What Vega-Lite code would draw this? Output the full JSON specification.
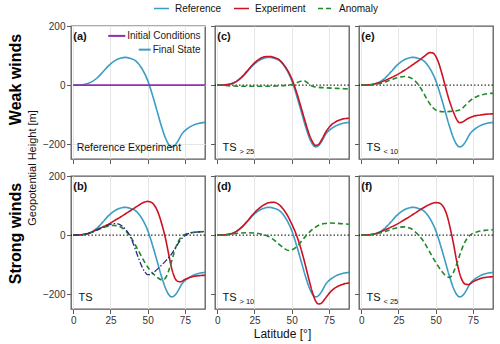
{
"$schema":"https://vega.github.io/schema/vega-lite/v6.json",
"padding":{"left":6,"top":0,"right":2,"bottom":2},
"config":{
 "font":"Liberation Sans",
 "view":{"stroke":"#5a5a5a","strokeWidth":1.3},
 "axis":{"domain":false,"gridColor":"#e6e6e6","tickColor":"#5a5a5a","tickSize":4.5,"labelFontSize":10,"labelColor":"#333333","titleFontSize":11.5,"titleFontWeight":"normal","titleColor":"#111111","labelPadding":1.5,"titlePadding":4,"labelOverlap":false},
 "line":{"strokeWidth":1.6,"interpolate":"monotone"}
},
"datasets":{
 "ref":[{"lat":0,"val":0},{"lat":4,"val":0.5},{"lat":8,"val":3},{"lat":12,"val":10},{"lat":16,"val":24},{"lat":20,"val":45},{"lat":24,"val":67},{"lat":28,"val":83},{"lat":32,"val":92},{"lat":35,"val":94},{"lat":38,"val":91},{"lat":42,"val":82},{"lat":46,"val":57},{"lat":50,"val":16},{"lat":53,"val":-30},{"lat":56,"val":-82},{"lat":59,"val":-135},{"lat":62,"val":-180},{"lat":64,"val":-200},{"lat":66,"val":-209},{"lat":68,"val":-205},{"lat":70,"val":-192},{"lat":73,"val":-165},{"lat":76,"val":-150},{"lat":80,"val":-137},{"lat":84,"val":-130},{"lat":88.5,"val":-126}],
 "init":[{"lat":0,"val":0},{"lat":88.5,"val":0}],
 "navy":[{"lat":0,"val":0},{"lat":4,"val":0.5},{"lat":8,"val":3},{"lat":12,"val":9},{"lat":16,"val":18},{"lat":20,"val":27},{"lat":24,"val":35},{"lat":27,"val":39},{"lat":30,"val":38},{"lat":33,"val":30},{"lat":36,"val":14},{"lat":38,"val":-2},{"lat":40,"val":-25},{"lat":42,"val":-52},{"lat":44,"val":-80},{"lat":46,"val":-105},{"lat":48,"val":-124},{"lat":50,"val":-134},{"lat":52,"val":-133},{"lat":55,"val":-122},{"lat":58,"val":-108},{"lat":62,"val":-88},{"lat":66,"val":-64},{"lat":69,"val":-40},{"lat":72,"val":-17},{"lat":75,"val":-2},{"lat":78,"val":6},{"lat":82,"val":10},{"lat":88.5,"val":12}],
 "curves":[
{"panel":"c","series":"Experiment","lat":0,"val":0},{"panel":"c","series":"Experiment","lat":4,"val":0.5},{"panel":"c","series":"Experiment","lat":8,"val":3},{"panel":"c","series":"Experiment","lat":12,"val":10},{"panel":"c","series":"Experiment","lat":16,"val":25},{"panel":"c","series":"Experiment","lat":20,"val":47},{"panel":"c","series":"Experiment","lat":24,"val":70},{"panel":"c","series":"Experiment","lat":28,"val":87},{"panel":"c","series":"Experiment","lat":32,"val":96},{"panel":"c","series":"Experiment","lat":35,"val":97},{"panel":"c","series":"Experiment","lat":38,"val":94},{"panel":"c","series":"Experiment","lat":42,"val":84},{"panel":"c","series":"Experiment","lat":46,"val":60},{"panel":"c","series":"Experiment","lat":50,"val":22},{"panel":"c","series":"Experiment","lat":53,"val":-20},{"panel":"c","series":"Experiment","lat":56,"val":-70},{"panel":"c","series":"Experiment","lat":59,"val":-122},{"panel":"c","series":"Experiment","lat":62,"val":-170},{"panel":"c","series":"Experiment","lat":64,"val":-192},{"panel":"c","series":"Experiment","lat":66,"val":-204},{"panel":"c","series":"Experiment","lat":68,"val":-201},{"panel":"c","series":"Experiment","lat":70,"val":-186},{"panel":"c","series":"Experiment","lat":73,"val":-158},{"panel":"c","series":"Experiment","lat":76,"val":-138},{"panel":"c","series":"Experiment","lat":80,"val":-123},{"panel":"c","series":"Experiment","lat":84,"val":-115},{"panel":"c","series":"Experiment","lat":88.5,"val":-112},
{"panel":"c","series":"Anomaly","lat":0,"val":0},{"panel":"c","series":"Anomaly","lat":5,"val":-1},{"panel":"c","series":"Anomaly","lat":10,"val":-3},{"panel":"c","series":"Anomaly","lat":20,"val":-4},{"panel":"c","series":"Anomaly","lat":30,"val":-4},{"panel":"c","series":"Anomaly","lat":40,"val":-3},{"panel":"c","series":"Anomaly","lat":46,"val":-1},{"panel":"c","series":"Anomaly","lat":50,"val":2},{"panel":"c","series":"Anomaly","lat":53,"val":7},{"panel":"c","series":"Anomaly","lat":56,"val":13},{"panel":"c","series":"Anomaly","lat":58,"val":15},{"panel":"c","series":"Anomaly","lat":60,"val":10},{"panel":"c","series":"Anomaly","lat":62,"val":2},{"panel":"c","series":"Anomaly","lat":64,"val":-4},{"panel":"c","series":"Anomaly","lat":67,"val":-7},{"panel":"c","series":"Anomaly","lat":72,"val":-9},{"panel":"c","series":"Anomaly","lat":80,"val":-11},{"panel":"c","series":"Anomaly","lat":88.5,"val":-13},
{"panel":"e","series":"Experiment","lat":0,"val":0},{"panel":"e","series":"Experiment","lat":4,"val":0.5},{"panel":"e","series":"Experiment","lat":8,"val":3},{"panel":"e","series":"Experiment","lat":12,"val":8},{"panel":"e","series":"Experiment","lat":16,"val":16},{"panel":"e","series":"Experiment","lat":20,"val":25},{"panel":"e","series":"Experiment","lat":24,"val":35},{"panel":"e","series":"Experiment","lat":28,"val":47},{"panel":"e","series":"Experiment","lat":32,"val":60},{"panel":"e","series":"Experiment","lat":36,"val":74},{"panel":"e","series":"Experiment","lat":40,"val":88},{"panel":"e","series":"Experiment","lat":43,"val":100},{"panel":"e","series":"Experiment","lat":46,"val":110},{"panel":"e","series":"Experiment","lat":48,"val":109},{"panel":"e","series":"Experiment","lat":50,"val":98},{"panel":"e","series":"Experiment","lat":52,"val":75},{"panel":"e","series":"Experiment","lat":54,"val":42},{"panel":"e","series":"Experiment","lat":56,"val":5},{"panel":"e","series":"Experiment","lat":58,"val":-33},{"panel":"e","series":"Experiment","lat":60,"val":-65},{"panel":"e","series":"Experiment","lat":62,"val":-92},{"panel":"e","series":"Experiment","lat":64,"val":-115},{"panel":"e","series":"Experiment","lat":66,"val":-127},{"panel":"e","series":"Experiment","lat":68,"val":-125},{"panel":"e","series":"Experiment","lat":71,"val":-115},{"panel":"e","series":"Experiment","lat":75,"val":-106},{"panel":"e","series":"Experiment","lat":80,"val":-101},{"panel":"e","series":"Experiment","lat":85,"val":-98},{"panel":"e","series":"Experiment","lat":88.5,"val":-97},
{"panel":"e","series":"Anomaly","lat":0,"val":0},{"panel":"e","series":"Anomaly","lat":5,"val":1},{"panel":"e","series":"Anomaly","lat":10,"val":3},{"panel":"e","series":"Anomaly","lat":15,"val":9},{"panel":"e","series":"Anomaly","lat":20,"val":18},{"panel":"e","series":"Anomaly","lat":25,"val":26},{"panel":"e","series":"Anomaly","lat":29,"val":29},{"panel":"e","series":"Anomaly","lat":33,"val":25},{"panel":"e","series":"Anomaly","lat":36,"val":15},{"panel":"e","series":"Anomaly","lat":39,"val":-3},{"panel":"e","series":"Anomaly","lat":42,"val":-28},{"panel":"e","series":"Anomaly","lat":45,"val":-55},{"panel":"e","series":"Anomaly","lat":48,"val":-76},{"panel":"e","series":"Anomaly","lat":51,"val":-87},{"panel":"e","series":"Anomaly","lat":55,"val":-90},{"panel":"e","series":"Anomaly","lat":60,"val":-89},{"panel":"e","series":"Anomaly","lat":64,"val":-87},{"panel":"e","series":"Anomaly","lat":67,"val":-82},{"panel":"e","series":"Anomaly","lat":70,"val":-68},{"panel":"e","series":"Anomaly","lat":73,"val":-53},{"panel":"e","series":"Anomaly","lat":77,"val":-40},{"panel":"e","series":"Anomaly","lat":81,"val":-33},{"panel":"e","series":"Anomaly","lat":85,"val":-29},{"panel":"e","series":"Anomaly","lat":88.5,"val":-27},
{"panel":"b","series":"Experiment","lat":0,"val":0},{"panel":"b","series":"Experiment","lat":4,"val":0.5},{"panel":"b","series":"Experiment","lat":8,"val":3},{"panel":"b","series":"Experiment","lat":12,"val":9},{"panel":"b","series":"Experiment","lat":16,"val":19},{"panel":"b","series":"Experiment","lat":20,"val":28},{"panel":"b","series":"Experiment","lat":24,"val":38},{"panel":"b","series":"Experiment","lat":28,"val":50},{"panel":"b","series":"Experiment","lat":32,"val":62},{"panel":"b","series":"Experiment","lat":36,"val":75},{"panel":"b","series":"Experiment","lat":40,"val":88},{"panel":"b","series":"Experiment","lat":44,"val":101},{"panel":"b","series":"Experiment","lat":47,"val":110},{"panel":"b","series":"Experiment","lat":50,"val":114},{"panel":"b","series":"Experiment","lat":52,"val":112},{"panel":"b","series":"Experiment","lat":54,"val":104},{"panel":"b","series":"Experiment","lat":56,"val":88},{"panel":"b","series":"Experiment","lat":58,"val":62},{"panel":"b","series":"Experiment","lat":60,"val":28},{"panel":"b","series":"Experiment","lat":62,"val":-12},{"panel":"b","series":"Experiment","lat":64,"val":-62},{"panel":"b","series":"Experiment","lat":66,"val":-110},{"panel":"b","series":"Experiment","lat":68,"val":-142},{"panel":"b","series":"Experiment","lat":70,"val":-156},{"panel":"b","series":"Experiment","lat":72,"val":-158},{"panel":"b","series":"Experiment","lat":75,"val":-150},{"panel":"b","series":"Experiment","lat":80,"val":-141},{"panel":"b","series":"Experiment","lat":85,"val":-137},{"panel":"b","series":"Experiment","lat":88.5,"val":-136},
{"panel":"b","series":"Anomaly","lat":0,"val":0},{"panel":"b","series":"Anomaly","lat":4,"val":0.5},{"panel":"b","series":"Anomaly","lat":8,"val":3},{"panel":"b","series":"Anomaly","lat":12,"val":9},{"panel":"b","series":"Anomaly","lat":16,"val":17},{"panel":"b","series":"Anomaly","lat":20,"val":25},{"panel":"b","series":"Anomaly","lat":24,"val":31},{"panel":"b","series":"Anomaly","lat":27,"val":33},{"panel":"b","series":"Anomaly","lat":30,"val":31},{"panel":"b","series":"Anomaly","lat":33,"val":24},{"panel":"b","series":"Anomaly","lat":36,"val":10},{"panel":"b","series":"Anomaly","lat":39,"val":-10},{"panel":"b","series":"Anomaly","lat":42,"val":-36},{"panel":"b","series":"Anomaly","lat":45,"val":-64},{"panel":"b","series":"Anomaly","lat":48,"val":-92},{"panel":"b","series":"Anomaly","lat":51,"val":-115},{"panel":"b","series":"Anomaly","lat":54,"val":-132},{"panel":"b","series":"Anomaly","lat":57,"val":-145},{"panel":"b","series":"Anomaly","lat":60,"val":-152},{"panel":"b","series":"Anomaly","lat":62,"val":-145},{"panel":"b","series":"Anomaly","lat":64,"val":-122},{"panel":"b","series":"Anomaly","lat":66,"val":-90},{"panel":"b","series":"Anomaly","lat":68,"val":-55},{"panel":"b","series":"Anomaly","lat":70,"val":-27},{"panel":"b","series":"Anomaly","lat":72,"val":-10},{"panel":"b","series":"Anomaly","lat":75,"val":2},{"panel":"b","series":"Anomaly","lat":80,"val":9},{"panel":"b","series":"Anomaly","lat":85,"val":11},{"panel":"b","series":"Anomaly","lat":88.5,"val":12},
{"panel":"d","series":"Experiment","lat":0,"val":0},{"panel":"d","series":"Experiment","lat":4,"val":0.5},{"panel":"d","series":"Experiment","lat":8,"val":3},{"panel":"d","series":"Experiment","lat":12,"val":10},{"panel":"d","series":"Experiment","lat":16,"val":25},{"panel":"d","series":"Experiment","lat":20,"val":46},{"panel":"d","series":"Experiment","lat":24,"val":70},{"panel":"d","series":"Experiment","lat":28,"val":90},{"panel":"d","series":"Experiment","lat":32,"val":104},{"panel":"d","series":"Experiment","lat":35,"val":110},{"panel":"d","series":"Experiment","lat":38,"val":111},{"panel":"d","series":"Experiment","lat":41,"val":105},{"panel":"d","series":"Experiment","lat":44,"val":90},{"panel":"d","series":"Experiment","lat":47,"val":68},{"panel":"d","series":"Experiment","lat":50,"val":38},{"panel":"d","series":"Experiment","lat":53,"val":3},{"panel":"d","series":"Experiment","lat":56,"val":-42},{"panel":"d","series":"Experiment","lat":59,"val":-98},{"panel":"d","series":"Experiment","lat":62,"val":-158},{"panel":"d","series":"Experiment","lat":64,"val":-195},{"panel":"d","series":"Experiment","lat":66,"val":-222},{"panel":"d","series":"Experiment","lat":68,"val":-233},{"panel":"d","series":"Experiment","lat":70,"val":-230},{"panel":"d","series":"Experiment","lat":72,"val":-218},{"panel":"d","series":"Experiment","lat":75,"val":-198},{"panel":"d","series":"Experiment","lat":78,"val":-183},{"panel":"d","series":"Experiment","lat":82,"val":-171},{"panel":"d","series":"Experiment","lat":86,"val":-164},{"panel":"d","series":"Experiment","lat":88.5,"val":-162},
{"panel":"d","series":"Anomaly","lat":0,"val":0},{"panel":"d","series":"Anomaly","lat":5,"val":1},{"panel":"d","series":"Anomaly","lat":10,"val":4},{"panel":"d","series":"Anomaly","lat":15,"val":7},{"panel":"d","series":"Anomaly","lat":20,"val":8},{"panel":"d","series":"Anomaly","lat":25,"val":7},{"panel":"d","series":"Anomaly","lat":30,"val":3},{"panel":"d","series":"Anomaly","lat":34,"val":-4},{"panel":"d","series":"Anomaly","lat":38,"val":-16},{"panel":"d","series":"Anomaly","lat":42,"val":-33},{"panel":"d","series":"Anomaly","lat":45,"val":-45},{"panel":"d","series":"Anomaly","lat":48,"val":-52},{"panel":"d","series":"Anomaly","lat":51,"val":-48},{"panel":"d","series":"Anomaly","lat":54,"val":-36},{"panel":"d","series":"Anomaly","lat":57,"val":-18},{"panel":"d","series":"Anomaly","lat":60,"val":0},{"panel":"d","series":"Anomaly","lat":63,"val":15},{"panel":"d","series":"Anomaly","lat":66,"val":27},{"panel":"d","series":"Anomaly","lat":69,"val":35},{"panel":"d","series":"Anomaly","lat":72,"val":39},{"panel":"d","series":"Anomaly","lat":76,"val":41},{"panel":"d","series":"Anomaly","lat":80,"val":40},{"panel":"d","series":"Anomaly","lat":85,"val":38},{"panel":"d","series":"Anomaly","lat":88.5,"val":37},
{"panel":"f","series":"Experiment","lat":0,"val":0},{"panel":"f","series":"Experiment","lat":4,"val":0.5},{"panel":"f","series":"Experiment","lat":8,"val":3},{"panel":"f","series":"Experiment","lat":12,"val":9},{"panel":"f","series":"Experiment","lat":16,"val":18},{"panel":"f","series":"Experiment","lat":20,"val":27},{"panel":"f","series":"Experiment","lat":24,"val":37},{"panel":"f","series":"Experiment","lat":28,"val":49},{"panel":"f","series":"Experiment","lat":32,"val":61},{"panel":"f","series":"Experiment","lat":36,"val":74},{"panel":"f","series":"Experiment","lat":40,"val":87},{"panel":"f","series":"Experiment","lat":44,"val":99},{"panel":"f","series":"Experiment","lat":47,"val":106},{"panel":"f","series":"Experiment","lat":50,"val":110},{"panel":"f","series":"Experiment","lat":52,"val":109},{"panel":"f","series":"Experiment","lat":54,"val":103},{"panel":"f","series":"Experiment","lat":56,"val":88},{"panel":"f","series":"Experiment","lat":58,"val":60},{"panel":"f","series":"Experiment","lat":60,"val":18},{"panel":"f","series":"Experiment","lat":62,"val":-30},{"panel":"f","series":"Experiment","lat":64,"val":-85},{"panel":"f","series":"Experiment","lat":66,"val":-128},{"panel":"f","series":"Experiment","lat":68,"val":-155},{"panel":"f","series":"Experiment","lat":70,"val":-166},{"panel":"f","series":"Experiment","lat":72,"val":-167},{"panel":"f","series":"Experiment","lat":75,"val":-158},{"panel":"f","series":"Experiment","lat":80,"val":-147},{"panel":"f","series":"Experiment","lat":85,"val":-142},{"panel":"f","series":"Experiment","lat":88.5,"val":-141},
{"panel":"f","series":"Anomaly","lat":0,"val":0},{"panel":"f","series":"Anomaly","lat":5,"val":1},{"panel":"f","series":"Anomaly","lat":10,"val":4},{"panel":"f","series":"Anomaly","lat":15,"val":10},{"panel":"f","series":"Anomaly","lat":20,"val":19},{"panel":"f","series":"Anomaly","lat":25,"val":26},{"panel":"f","series":"Anomaly","lat":29,"val":28},{"panel":"f","series":"Anomaly","lat":33,"val":23},{"panel":"f","series":"Anomaly","lat":36,"val":12},{"panel":"f","series":"Anomaly","lat":39,"val":-3},{"panel":"f","series":"Anomaly","lat":42,"val":-22},{"panel":"f","series":"Anomaly","lat":45,"val":-48},{"panel":"f","series":"Anomaly","lat":48,"val":-75},{"panel":"f","series":"Anomaly","lat":51,"val":-100},{"panel":"f","series":"Anomaly","lat":54,"val":-122},{"panel":"f","series":"Anomaly","lat":57,"val":-138},{"panel":"f","series":"Anomaly","lat":59,"val":-143},{"panel":"f","series":"Anomaly","lat":61,"val":-136},{"panel":"f","series":"Anomaly","lat":63,"val":-113},{"panel":"f","series":"Anomaly","lat":65,"val":-85},{"panel":"f","series":"Anomaly","lat":67,"val":-55},{"panel":"f","series":"Anomaly","lat":69,"val":-30},{"panel":"f","series":"Anomaly","lat":71,"val":-12},{"panel":"f","series":"Anomaly","lat":74,"val":3},{"panel":"f","series":"Anomaly","lat":78,"val":11},{"panel":"f","series":"Anomaly","lat":83,"val":16},{"panel":"f","series":"Anomaly","lat":88.5,"val":18}
 ]
},
"columns":3,
"bounds":"flush",
"spacing":{"row":17,"column":10},
"concat":[
   {"width":134,"height":133,"layer":[
     {"data":{"name":"ref"},"mark":{"type":"line","color":"#3b9dc4"},"encoding":{
       "x":{"field":"lat","type":"quantitative","scale":{"domain":[-1.5,88.5],"nice":false,"zero":false},"axis":{"values":[0,25,50,75],"labels":false,"title":null}},
       "y":{"field":"val","type":"quantitative","scale":{"domain":[-250,200],"nice":false,"zero":false},"axis":{"values":[-200,-100,0,100,200],"labelOverlap":false,"title":"Weak winds","titleX":-51,"titleY":53,"titleFontSize":16,"titleFontWeight":"bold","titleColor":"#000000","titleBaseline":"alphabetic","titleAlign":"center","titleAngle":270}}}},
     {"data":{"name":"init"},"mark":{"type":"line","color":"#9030b0"},"encoding":{"x":{"field":"lat","type":"quantitative"},"y":{"field":"val","type":"quantitative"}}},
     {"data":{"values":[{}]},"mark":{"type":"rule","color":"#9030b0","strokeWidth":2},"encoding":{"x":{"datum":23.5},"x2":{"datum":35},"y":{"datum":166.5}}},
     {"data":{"values":[{}]},"mark":{"type":"rule","color":"#3b9dc4","strokeWidth":2},"encoding":{"x":{"datum":44},"x2":{"datum":52},"y":{"datum":120}}},
     {"data":{"values":[{}]},"mark":{"type":"text","text":"Initial Conditions","align":"right","baseline":"middle","fontSize":10,"color":"#222222"},"encoding":{"x":{"datum":85.5},"y":{"datum":166.5}}},
     {"data":{"values":[{}]},"mark":{"type":"text","text":"Final State","align":"right","baseline":"middle","fontSize":10,"color":"#222222"},"encoding":{"x":{"datum":85.5},"y":{"datum":120}}},
     {"data":{"values":[{}]},"mark":{"type":"text","text":"(a)","align":"left","baseline":"middle","fontSize":11,"fontWeight":"bold","color":"#111111"},"encoding":{"x":{"datum":0},"y":{"datum":163}}},
     {"data":{"values":[{}]},"mark":{"type":"text","text":"Reference Experiment","align":"left","baseline":"middle","fontSize":10.5,"color":"#111111"},"encoding":{"x":{"datum":2.3},"y":{"datum":-214}}}
   ]},
   {"width":134,"height":133,"layer":[
     {"data":{"values":[{}]},"mark":{"type":"rule","color":"#000000","strokeWidth":1,"strokeDash":[1.5,2]},"encoding":{"y":{"datum":0}}},
     {"data":{"name":"ref"},"mark":{"type":"line"},"encoding":{
       "x":{"field":"lat","type":"quantitative","scale":{"domain":[-1.5,88.5],"nice":false,"zero":false},"axis":{"values":[0,25,50,75],"labels":false,"title":null}},
       "y":{"field":"val","type":"quantitative","scale":{"domain":[-250,200],"nice":false,"zero":false},"axis":{"values":[-200,-100,0,100,200],"labels":false,"title":null}},
       "color":{"datum":"Reference","type":"nominal","title":null},"strokeDash":{"datum":"Reference","type":"nominal","title":null}}},
     {"data":{"name":"curves"},"transform":[{"filter":"datum.panel === 'c'"}],"mark":{"type":"line"},"encoding":{
       "x":{"field":"lat","type":"quantitative"},"y":{"field":"val","type":"quantitative"},
       "color":{"field":"series","type":"nominal","title":null,"scale":{"domain":["Reference","Experiment","Anomaly"],"range":["#3b9dc4","#cc1122","#22882a"]},"legend":{"orient":"none","legendX":82,"legendY":-26,"direction":"horizontal","gridAlign":"none","symbolType":"stroke","symbolStrokeWidth":2,"symbolSize":225,"labelFontSize":10,"labelColor":"#111111","columnPadding":8,"labelOffset":5,"title":null}},
       "strokeDash":{"field":"series","type":"nominal","title":null,"scale":{"domain":["Reference","Experiment","Anomaly"],"range":[[1,0],[1,0],[5,3]]}}}},
     {"data":{"values":[{}]},"mark":{"type":"text","text":"(c)","align":"left","baseline":"middle","fontSize":11,"fontWeight":"bold","color":"#111111"},"encoding":{"x":{"datum":0},"y":{"datum":163}}},
     {"data":{"values":[{}]},"mark":{"type":"text","text":"TS","align":"left","baseline":"middle","fontSize":11,"color":"#111111"},"encoding":{"x":{"datum":3.5},"y":{"datum":-214}}},
     {"data":{"values":[{}]},"mark":{"type":"text","text":"> 25","align":"left","baseline":"middle","fontSize":7.5,"dx":17,"dy":4,"color":"#111111"},"encoding":{"x":{"datum":3.5},"y":{"datum":-214}}}
   ]},
   {"width":134,"height":133,"layer":[
     {"data":{"values":[{}]},"mark":{"type":"rule","color":"#000000","strokeWidth":1,"strokeDash":[1.5,2]},"encoding":{"y":{"datum":0}}},
     {"data":{"name":"ref"},"mark":{"type":"line"},"encoding":{
       "x":{"field":"lat","type":"quantitative","scale":{"domain":[-1.5,88.5],"nice":false,"zero":false},"axis":{"values":[0,25,50,75],"labels":false,"title":null}},
       "y":{"field":"val","type":"quantitative","scale":{"domain":[-250,200],"nice":false,"zero":false},"axis":{"values":[-200,-100,0,100,200],"labels":false,"title":null}},
       "color":{"datum":"Reference","type":"nominal","title":null},"strokeDash":{"datum":"Reference","type":"nominal","title":null}}},
     {"data":{"name":"curves"},"transform":[{"filter":"datum.panel === 'e'"}],"mark":{"type":"line"},"encoding":{
       "x":{"field":"lat","type":"quantitative"},"y":{"field":"val","type":"quantitative"},
       "color":{"field":"series","type":"nominal","title":null},"strokeDash":{"field":"series","type":"nominal","title":null}}},
     {"data":{"values":[{}]},"mark":{"type":"text","text":"(e)","align":"left","baseline":"middle","fontSize":11,"fontWeight":"bold","color":"#111111"},"encoding":{"x":{"datum":0},"y":{"datum":163}}},
     {"data":{"values":[{}]},"mark":{"type":"text","text":"TS","align":"left","baseline":"middle","fontSize":11,"color":"#111111"},"encoding":{"x":{"datum":3.5},"y":{"datum":-214}}},
     {"data":{"values":[{}]},"mark":{"type":"text","text":"< 10","align":"left","baseline":"middle","fontSize":7.5,"dx":17,"dy":4,"color":"#111111"},"encoding":{"x":{"datum":3.5},"y":{"datum":-214}}}
   ]},
   {"width":134,"height":133,"layer":[
     {"data":{"values":[{}]},"mark":{"type":"rule","color":"#000000","strokeWidth":1,"strokeDash":[1.5,2]},"encoding":{"y":{"datum":0}}},
     {"data":{"name":"ref"},"mark":{"type":"line"},"encoding":{
       "x":{"field":"lat","type":"quantitative","scale":{"domain":[-1.5,88.5],"nice":false,"zero":false},"axis":{"values":[0,25,50,75],"labelOverlap":false,"title":null}},
       "y":{"field":"val","type":"quantitative","scale":{"domain":[-250,200],"nice":false,"zero":false},"axis":{"values":[-200,-100,0,100,200],"labelOverlap":false,"title":"Geopotential Height [m]","titleX":-39,"titleY":-8.5,"titleFontSize":11,"titleBaseline":"middle","titleAlign":"center","titleAngle":270}},
       "color":{"datum":"Reference","type":"nominal","title":null},"strokeDash":{"datum":"Reference","type":"nominal","title":null}}},
     {"data":{"name":"curves"},"transform":[{"filter":"datum.panel === 'b'"}],"mark":{"type":"line"},"encoding":{
       "x":{"field":"lat","type":"quantitative"},"y":{"field":"val","type":"quantitative"},
       "color":{"field":"series","type":"nominal","title":null},"strokeDash":{"field":"series","type":"nominal","title":null}}},
     {"data":{"name":"navy"},"mark":{"type":"line","color":"#2b2b80","strokeWidth":1.3,"strokeDash":[6,2,1.5,2]},"encoding":{"x":{"field":"lat","type":"quantitative"},"y":{"field":"val","type":"quantitative"}}},
     {"data":{"values":[{}]},"mark":{"type":"text","text":"(b)","align":"left","baseline":"middle","fontSize":11,"fontWeight":"bold","color":"#111111"},"encoding":{"x":{"datum":0},"y":{"datum":163}}},
     {"data":{"values":[{}]},"mark":{"type":"text","text":"TS","align":"left","baseline":"middle","fontSize":11,"color":"#111111"},"encoding":{"x":{"datum":3.5},"y":{"datum":-212}}}
   ]},
   {"width":134,"height":133,"layer":[
     {"data":{"values":[{}]},"mark":{"type":"rule","color":"#000000","strokeWidth":1,"strokeDash":[1.5,2]},"encoding":{"y":{"datum":0}}},
     {"data":{"name":"ref"},"mark":{"type":"line"},"encoding":{
       "x":{"field":"lat","type":"quantitative","scale":{"domain":[-1.5,88.5],"nice":false,"zero":false},"axis":{"values":[0,25,50,75],"labelOverlap":false,"title":"Latitude [°]","titleFontSize":12,"titlePadding":3}},
       "y":{"field":"val","type":"quantitative","scale":{"domain":[-250,200],"nice":false,"zero":false},"axis":{"values":[-200,-100,0,100,200],"labels":false,"title":"Strong winds","titleX":-195,"titleY":57,"titleFontSize":16,"titleFontWeight":"bold","titleColor":"#000000","titleBaseline":"alphabetic","titleAlign":"center","titleAngle":270}},
       "color":{"datum":"Reference","type":"nominal","title":null},"strokeDash":{"datum":"Reference","type":"nominal","title":null}}},
     {"data":{"name":"curves"},"transform":[{"filter":"datum.panel === 'd'"}],"mark":{"type":"line"},"encoding":{
       "x":{"field":"lat","type":"quantitative"},"y":{"field":"val","type":"quantitative"},
       "color":{"field":"series","type":"nominal","title":null},"strokeDash":{"field":"series","type":"nominal","title":null}}},
     {"data":{"values":[{}]},"mark":{"type":"text","text":"(d)","align":"left","baseline":"middle","fontSize":11,"fontWeight":"bold","color":"#111111"},"encoding":{"x":{"datum":0},"y":{"datum":163}}},
     {"data":{"values":[{}]},"mark":{"type":"text","text":"TS","align":"left","baseline":"middle","fontSize":11,"color":"#111111"},"encoding":{"x":{"datum":3.5},"y":{"datum":-212}}},
     {"data":{"values":[{}]},"mark":{"type":"text","text":"> 10","align":"left","baseline":"middle","fontSize":7.5,"dx":17,"dy":4,"color":"#111111"},"encoding":{"x":{"datum":3.5},"y":{"datum":-212}}}
   ]},
   {"width":134,"height":133,"layer":[
     {"data":{"values":[{}]},"mark":{"type":"rule","color":"#000000","strokeWidth":1,"strokeDash":[1.5,2]},"encoding":{"y":{"datum":0}}},
     {"data":{"name":"ref"},"mark":{"type":"line"},"encoding":{
       "x":{"field":"lat","type":"quantitative","scale":{"domain":[-1.5,88.5],"nice":false,"zero":false},"axis":{"values":[0,25,50,75],"labelOverlap":false,"title":null}},
       "y":{"field":"val","type":"quantitative","scale":{"domain":[-250,200],"nice":false,"zero":false},"axis":{"values":[-200,-100,0,100,200],"labels":false,"title":null}},
       "color":{"datum":"Reference","type":"nominal","title":null},"strokeDash":{"datum":"Reference","type":"nominal","title":null}}},
     {"data":{"name":"curves"},"transform":[{"filter":"datum.panel === 'f'"}],"mark":{"type":"line"},"encoding":{
       "x":{"field":"lat","type":"quantitative"},"y":{"field":"val","type":"quantitative"},
       "color":{"field":"series","type":"nominal","title":null},"strokeDash":{"field":"series","type":"nominal","title":null}}},
     {"data":{"values":[{}]},"mark":{"type":"text","text":"(f)","align":"left","baseline":"middle","fontSize":11,"fontWeight":"bold","color":"#111111"},"encoding":{"x":{"datum":0},"y":{"datum":163}}},
     {"data":{"values":[{}]},"mark":{"type":"text","text":"TS","align":"left","baseline":"middle","fontSize":11,"color":"#111111"},"encoding":{"x":{"datum":3.5},"y":{"datum":-212}}},
     {"data":{"values":[{}]},"mark":{"type":"text","text":"< 25","align":"left","baseline":"middle","fontSize":7.5,"dx":17,"dy":4,"color":"#111111"},"encoding":{"x":{"datum":3.5},"y":{"datum":-212}}}
   ]}
]
}
